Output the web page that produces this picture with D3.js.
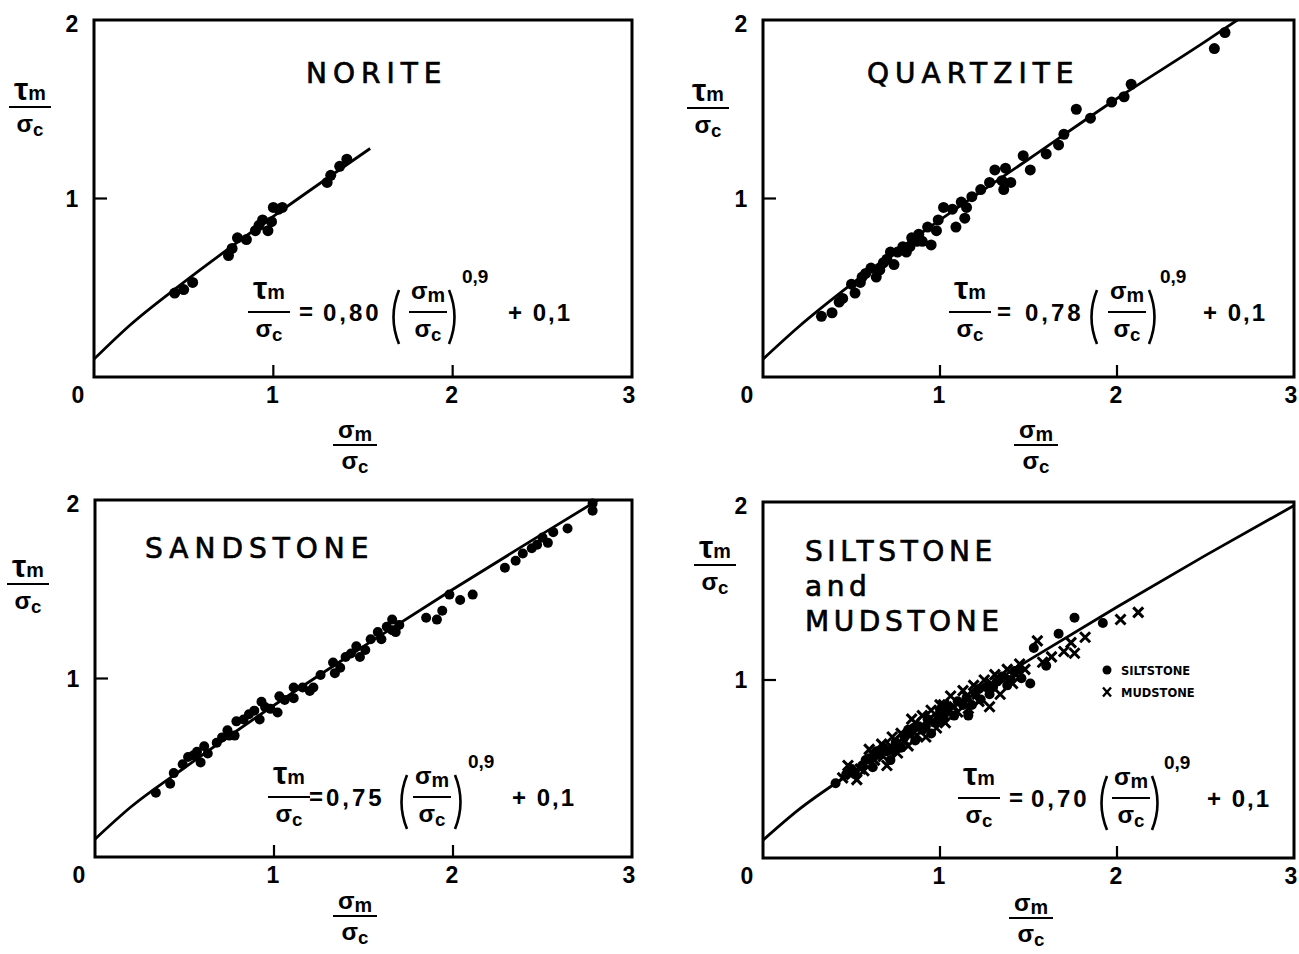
<!DOCTYPE html>
<html><head><meta charset="utf-8">
<script src="https://cdn.jsdelivr.net/npm/d3@7"></script>
<style>html,body{margin:0;padding:0;background:#fff}svg{display:block}</style>
</head><body>
<svg id="chart" width="1299" height="954"></svg>
<script>
// ---------------- DATA ----------------
const xTickValues = [0, 1, 2, 3];
const yTickValues = [1, 2];
const xTickLabels = ["0", "1", "2", "3"];
const yTickLabels = ["1", "2"];

const panelTitles = [["NORITE"], ["QUARTZITE"], ["SANDSTONE"], ["SILTSTONE", "and", "MUDSTONE"]];
const coefficients = ["0,80", "0,78", "0,75", "0,70"];
const exponentLabel = "0,9";
const constantLabel = "+ 0,1";
const legendLabels = ["SILTSTONE", "MUDSTONE"];

const noriteX = [0.45,0.50,0.55,0.75,0.77,0.80,0.85,0.90,0.92,0.94,0.97,0.99,1.00,1.03,1.05,1.30,1.32,1.37,1.41];
const noriteY = [0.47,0.49,0.53,0.68,0.72,0.78,0.77,0.82,0.85,0.88,0.82,0.87,0.95,0.94,0.95,1.09,1.13,1.18,1.22];

const quartzX = [0.33,0.39,0.43,0.45,0.50,0.52,0.55,0.56,0.58,0.61,0.64,0.66,0.68,0.70,0.72,0.74,0.76,0.79,0.81,0.83,0.84,0.87,0.88,0.90,0.93,0.95,0.98,0.99,1.02,1.07,1.09,1.12,1.14,1.15,1.18,1.23,1.28,1.31,1.35,1.36,1.37,1.40,1.47,1.51,1.60,1.67,1.70,1.77,1.85,1.97,2.04,2.08,2.55,2.61];
const quartzY = [0.34,0.36,0.42,0.44,0.52,0.47,0.53,0.56,0.58,0.61,0.56,0.60,0.64,0.66,0.70,0.63,0.70,0.73,0.70,0.73,0.78,0.76,0.80,0.76,0.84,0.74,0.82,0.88,0.95,0.94,0.84,0.98,0.89,0.95,1.01,1.05,1.09,1.16,1.10,1.05,1.17,1.09,1.24,1.16,1.25,1.30,1.36,1.50,1.45,1.54,1.57,1.64,1.84,1.93];

const sandX = [0.34,0.42,0.44,0.49,0.52,0.55,0.57,0.59,0.61,0.63,0.68,0.71,0.74,0.75,0.78,0.79,0.83,0.86,0.89,0.92,0.93,0.95,0.98,1.02,1.03,1.06,1.11,1.11,1.16,1.20,1.22,1.26,1.33,1.34,1.37,1.40,1.43,1.46,1.48,1.51,1.54,1.58,1.60,1.63,1.66,1.66,1.68,1.70,1.85,1.91,1.94,1.98,2.04,2.11,2.29,2.35,2.39,2.44,2.47,2.50,2.53,2.56,2.64,2.78,2.78];
const sandY = [0.36,0.41,0.47,0.52,0.56,0.57,0.59,0.53,0.62,0.58,0.64,0.67,0.71,0.68,0.68,0.76,0.77,0.80,0.82,0.77,0.87,0.84,0.83,0.81,0.90,0.88,0.95,0.89,0.95,0.93,0.95,1.02,1.09,1.03,1.06,1.12,1.14,1.18,1.12,1.16,1.22,1.26,1.22,1.29,1.27,1.33,1.26,1.30,1.34,1.33,1.38,1.47,1.44,1.47,1.62,1.66,1.70,1.73,1.75,1.79,1.76,1.82,1.84,1.94,1.98];

const siltX = [0.41,0.47,0.50,0.52,0.56,0.58,0.60,0.62,0.64,0.66,0.68,0.70,0.72,0.74,0.75,0.78,0.80,0.82,0.83,0.85,0.86,0.88,0.90,0.92,0.93,0.95,0.97,0.99,1.00,1.02,1.04,1.05,1.08,1.10,1.13,1.16,1.15,1.18,1.20,1.22,1.23,1.26,1.28,1.30,1.32,1.35,1.38,1.40,1.42,1.45,1.46,1.51,1.53,1.60,1.67,1.76,1.92];
const siltY = [0.42,0.47,0.50,0.47,0.52,0.55,0.56,0.51,0.60,0.58,0.62,0.60,0.55,0.60,0.65,0.62,0.68,0.72,0.70,0.73,0.66,0.74,0.72,0.74,0.78,0.70,0.76,0.78,0.82,0.78,0.82,0.85,0.80,0.88,0.86,0.80,0.90,0.86,0.93,0.95,0.89,0.96,0.92,0.96,0.99,1.02,0.97,1.00,1.05,1.06,1.01,0.98,1.18,1.08,1.26,1.35,1.32];

const mudX = [0.45,0.48,0.50,0.53,0.55,0.57,0.60,0.62,0.63,0.67,0.68,0.70,0.72,0.73,0.76,0.78,0.80,0.82,0.84,0.86,0.87,0.90,0.92,0.94,0.95,0.98,1.00,1.02,1.03,1.06,1.08,1.10,1.13,1.15,1.16,1.19,1.21,1.22,1.25,1.28,1.29,1.31,1.34,1.36,1.38,1.41,1.43,1.45,1.48,1.55,1.58,1.63,1.70,1.74,1.76,1.82,2.02,2.12];
const mudY = [0.45,0.52,0.47,0.44,0.50,0.49,0.61,0.58,0.55,0.64,0.57,0.52,0.63,0.68,0.59,0.70,0.66,0.63,0.78,0.76,0.69,0.80,0.68,0.78,0.83,0.73,0.86,0.86,0.76,0.91,0.85,0.82,0.94,0.91,0.84,0.97,0.92,0.88,1.00,0.85,0.98,1.03,0.92,1.00,1.06,0.98,1.03,1.09,1.06,1.22,1.10,1.13,1.16,1.21,1.15,1.24,1.34,1.38];

// fitted curves as drawn in each panel
const noriteFitX = [0, 0.2, 0.5, 1.0, 1.54];
const noriteFitY = [0.10, 0.29, 0.53, 0.90, 1.28];
const quartzFitX = [0, 0.2, 0.5, 1.0, 1.5, 2.0, 2.5, 2.68];
const quartzFitY = [0.10, 0.28, 0.52, 0.88, 1.22, 1.56, 1.88, 2.0];
const sandFitX = [0, 0.2, 0.5, 1.0, 1.5, 2.0, 2.5, 2.81];
const sandFitY = [0.10, 0.28, 0.50, 0.85, 1.18, 1.50, 1.81, 2.0];
const siltFitX = [0, 0.2, 0.5, 1.0, 1.5, 2.0, 2.5, 3.0];
const siltFitY = [0.10, 0.27, 0.48, 0.80, 1.11, 1.41, 1.70, 1.98];

// ---------------- LAYOUT ----------------
const NARROW = "'Liberation Sans',Arial,sans-serif";
const TITLEF = "'DejaVu Sans','Liberation Sans',sans-serif";

const panels = [
  {box:[94, 20, 632, 377], titleXY:[306, 83], spacing:6,
   series:[{x:noriteX, y:noriteY, type:"dot", r:5.5}], fit:[noriteFitX, noriteFitY],
   yLab:[30, 107], xLab:[355, 445],
   eq:{cx:269, cy:312, o:{eq:37, num:54, lp:126, inner:159, rp:184, exp:193, plus:239}}},
  {box:[763, 20, 1294, 377], titleXY:[867, 83], spacing:6,
   series:[{x:quartzX, y:quartzY, type:"dot", r:5.5}], fit:[quartzFitX, quartzFitY],
   yLab:[708, 108], xLab:[1036, 445],
   eq:{cx:970, cy:312, o:{eq:34, num:55, lp:123, inner:157, rp:183, exp:190, plus:233}}},
  {box:[95, 500, 632, 857], titleXY:[145, 558], spacing:6,
   series:[{x:sandX, y:sandY, type:"dot", r:5}], fit:[sandFitX, sandFitY],
   yLab:[28, 584], xLab:[355, 916],
   eq:{cx:289, cy:797, o:{eq:27, num:37, lp:114, inner:143, rp:170, exp:179, plus:223}}},
  {box:[763, 502, 1294, 858], titleXY:[805, 561], spacing:4.6,
   series:[{x:siltX, y:siltY, type:"dot", r:5}, {x:mudX, y:mudY, type:"cross", r:5}],
   fit:[siltFitX, siltFitY],
   yLab:[715, 565], xLab:[1031, 918],
   eq:{cx:979, cy:798, o:{eq:37, num:52, lp:124, inner:152, rp:177, exp:185, plus:228}},
   legend:true}
];

const svg = d3.select("#chart");

function fracLabel(g, cx, cy, topMain, topSub, botMain, botSub, w, fs, gapTop, gapBot) {
  const t = g.append("text").attr("x", cx).attr("y", cy - gapTop)
    .attr("text-anchor", "middle").style("font-family", NARROW).style("font-weight", "bold")
    .style("font-size", fs + "px");
  t.append("tspan").text(topMain).style("font-size", (topMain === "τ" ? fs * 1.45 : fs * 1.1) + "px");
  t.append("tspan").text(topSub).attr("dy", topMain === "τ" ? 0 : 3).style("font-size", (fs * 0.9) + "px");
  g.append("line").attr("x1", cx - w / 2).attr("x2", cx + w / 2).attr("y1", cy).attr("y2", cy)
    .attr("stroke", "#000").attr("stroke-width", 2.2);
  const b = g.append("text").attr("x", cx).attr("y", cy + gapBot)
    .attr("text-anchor", "middle").style("font-family", NARROW).style("font-weight", "bold")
    .style("font-size", fs + "px");
  b.append("tspan").text(botMain).style("font-size", (fs * 1.1) + "px");
  b.append("tspan").text(botSub).attr("dy", 4).style("font-size", (fs * 0.85) + "px");
}

function paren(g, x, cy, dir) {
  const top = cy - 22, bot = cy + 32, mid = (top + bot) / 2;
  const p = d3.path();
  p.moveTo(x + 4 * dir, top);
  p.quadraticCurveTo(x - 7 * dir, mid, x + 4 * dir, bot);
  g.append("path").attr("d", p.toString()).attr("fill", "none")
    .attr("stroke", "#000").attr("stroke-width", 2.6);
}

panels.forEach((P, i) => {
  const [L, T, R, B] = P.box;
  const x = d3.scaleLinear().domain([0, 3]).range([L, R]);
  const y = d3.scaleLinear().domain([0, 2]).range([B, T]);
  const g = svg.append("g");

  // fitted curve (clipped to frame)
  const clipId = "clip" + i;
  svg.append("clipPath").attr("id", clipId).append("rect")
    .attr("x", L).attr("y", T).attr("width", R - L).attr("height", B - T);
  const fx = P.fit[0], fy = P.fit[1];
  const line = d3.line().x(d => x(d[0])).y(d => y(d[1])).curve(d3.curveMonotoneX);
  g.append("path").attr("d", line(fx.map((v, k) => [v, fy[k]])))
    .attr("fill", "none").attr("stroke", "#000").attr("stroke-width", 2.8)
    .attr("clip-path", `url(#${clipId})`);

  // data points
  P.series.forEach(s => {
    const pts = s.x.map((v, k) => [v, s.y[k]]);
    if (s.type === "dot") {
      g.append("g").selectAll("circle").data(pts).join("circle")
        .attr("cx", d => x(d[0])).attr("cy", d => y(d[1])).attr("r", s.r).attr("fill", "#000");
    } else {
      g.append("g").selectAll("path").data(pts).join("path")
        .attr("transform", d => `translate(${x(d[0])},${y(d[1])})`)
        .attr("d", `M${-s.r},${-s.r}L${s.r},${s.r}M${-s.r},${s.r}L${s.r},${-s.r}`)
        .attr("stroke", "#000").attr("stroke-width", 3).attr("fill", "none");
    }
  });

  // frame
  g.append("rect").attr("x", L).attr("y", T).attr("width", R - L).attr("height", B - T)
    .attr("fill", "none").attr("stroke", "#000").attr("stroke-width", 3);

  // inner ticks
  g.append("g").selectAll("line").data(xTickValues.filter(v => v > 0 && v < 3)).join("line")
    .attr("x1", d => x(d)).attr("x2", d => x(d)).attr("y1", B).attr("y2", B - 12)
    .attr("stroke", "#000").attr("stroke-width", 2.2);
  g.append("g").selectAll("line").data(yTickValues.filter(v => v < 2)).join("line")
    .attr("y1", d => y(d)).attr("y2", d => y(d)).attr("x1", L).attr("x2", L + 13)
    .attr("stroke", "#000").attr("stroke-width", 2.2);

  // tick labels
  g.append("g").selectAll("text").data(xTickValues).join("text")
    .attr("x", d => x(d) + (d === 0 ? -16 : (d === 3 ? -3 : -1)))
    .attr("y", B + 26).attr("text-anchor", "middle")
    .style("font-family", NARROW).style("font-weight", "bold").style("font-size", "23px")
    .text((d, k) => xTickLabels[k]);
  g.append("g").selectAll("text").data(yTickValues).join("text")
    .attr("x", L - 22).attr("y", d => y(d) + (d === 2 ? 12 : 8)).attr("text-anchor", "middle")
    .style("font-family", NARROW).style("font-weight", "bold").style("font-size", "23px")
    .text((d, k) => yTickLabels[k]);

  // axis labels
  fracLabel(g, P.yLab[0], P.yLab[1], "τ", "m", "σ", "c", 42, 22, 7, 25);
  fracLabel(g, P.xLab[0], P.xLab[1], "σ", "m", "σ", "c", 44, 22, 7, 24);

  // title
  panelTitles[i].forEach((line, k) => {
    g.append("text").attr("x", P.titleXY[0]).attr("y", P.titleXY[1] + k * 35)
      .style("font-family", TITLEF).style("font-size", "28px")
      .attr("stroke", "#000").attr("stroke-width", 0.7)
      .style("letter-spacing", P.spacing + "px").text(line);
  });

  // equation
  const E = P.eq, o = E.o;
  fracLabel(g, E.cx, E.cy, "τ", "m", "σ", "c", 42, 22, 13, 25);
  g.append("text").attr("x", E.cx + o.eq).attr("y", E.cy + 8).attr("text-anchor", "middle")
    .style("font-family", NARROW).style("font-weight", "bold").style("font-size", "24px").text("=");
  g.append("text").attr("x", E.cx + o.num).attr("y", E.cy + 9)
    .style("font-family", NARROW).style("font-weight", "bold").style("font-size", "24px")
    .style("letter-spacing", "3px").text(coefficients[i]);
  paren(g, E.cx + o.lp, E.cy, 1);
  fracLabel(g, E.cx + o.inner, E.cy, "σ", "m", "σ", "c", 38, 22, 13, 25);
  paren(g, E.cx + o.rp, E.cy, -1);
  g.append("text").attr("x", E.cx + o.exp).attr("y", E.cy - 29)
    .style("font-family", NARROW).style("font-weight", "bold").style("font-size", "19px")
    .text(exponentLabel);
  g.append("text").attr("x", E.cx + o.plus).attr("y", E.cy + 9)
    .style("font-family", NARROW).style("font-weight", "bold").style("font-size", "24px")
    .style("letter-spacing", "2px").text(constantLabel);

  // legend
  if (P.legend) {
    const lg = g.append("g");
    lg.append("circle").attr("cx", 1107).attr("cy", 670).attr("r", 4.5).attr("fill", "#000");
    lg.append("path").attr("transform", "translate(1107,692)")
      .attr("d", "M-4,-4.5L4,4.5M-4,4.5L4,-4.5").attr("stroke", "#000").attr("stroke-width", 2.4);
    legendLabels.forEach((t, k) => {
      lg.append("text").attr("x", 1121).attr("y", 675 + k * 22)
        .style("font-family", TITLEF).style("font-weight", "bold").style("font-size", "11.5px")
        .text(t);
    });
  }
});
</script>
</body></html>
